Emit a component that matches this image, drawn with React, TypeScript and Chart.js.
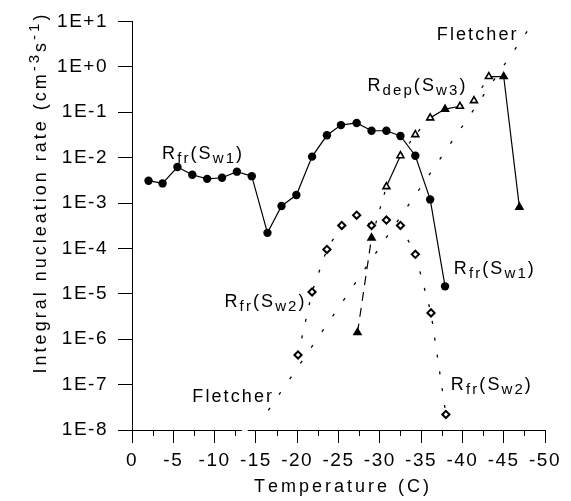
import React, { useEffect, useRef } from 'react';
import { Chart, registerables } from 'chart.js';

Chart.register(...registerables);

// ---------- data ----------
const sw1Temps = [-2, -3.7, -5.5, -7.3, -9.1, -10.9, -12.7, -14.5, -16.4, -18.1, -19.9, -21.8, -23.6, -25.3, -27.2, -29.0, -30.8, -32.5, -34.3, -36.1, -37.9];
const sw1Rates = [3.1e-3, 2.7e-3, 6.2e-3, 4.2e-3, 3.4e-3, 3.6e-3, 4.9e-3, 3.9e-3, 2.2e-4, 8.6e-4, 1.5e-3, 1.05e-2, 3.1e-2, 5.2e-2, 5.8e-2, 3.9e-2, 3.9e-2, 3.0e-2, 1.1e-2, 1.2e-3, 1.46e-5];

const sw2Temps = [-20.1, -21.8, -23.6, -25.4, -27.2, -29.0, -30.8, -32.5, -34.3, -36.2, -38.0];
const sw2Rates = [4.5e-7, 1.1e-5, 9.5e-5, 3.2e-4, 5.4e-4, 3.2e-4, 4.2e-4, 3.2e-4, 7.4e-5, 3.8e-6, 2.2e-8];

const dep3Temps = [-27.3, -29.0, -30.8, -32.5, -34.3, -36.1, -37.9, -39.7, -41.4, -43.2, -45.0, -46.9];
const dep3Rates = [1.4e-6, 1.7e-4, 2.3e-3, 1.1e-2, 3.2e-2, 7.5e-2, 0.117, 0.135, 0.18, 0.61, 0.61, 8.1e-4];
const dep3Filled = [true, true, false, false, false, false, true, false, false, false, true, true];

const fletcherTemps = [-16.5, -48.3];
const fletcherRates = [2.7e-8, 8];

const xTicks = [0, -5, -10, -15, -20, -25, -30, -35, -40, -45, -50];
const xTickLabels = ['0', '-5', '-10', '-15', '-20', '-25', '-30', '-35', '-40', '-45', '-50'];
const yTicks = [1e1, 1e0, 1e-1, 1e-2, 1e-3, 1e-4, 1e-5, 1e-6, 1e-7, 1e-8];
const yTickLabels = ['1E+1', '1E+0', '1E-1', '1E-2', '1E-3', '1E-4', '1E-5', '1E-6', '1E-7', '1E-8'];

const xTitle = 'Temperature (C)';
// [text, shift] shift: 0 normal, 1 subscript, -1 superscript
const yTitleParts: [string, number][] = [['Integral nucleation rate (cm', 0], ['-3', -1], ['s', 0], ['-1', -1], [')', 0]];

type Part = [string, number];
const labelTexts: Part[][] = [
  [['R', 0], ['fr', 1], ['(S', 0], ['w1', 1], [')', 0]],
  [['R', 0], ['dep', 1], ['(S', 0], ['w3', 1], [')', 0]],
  [['Fletcher', 0]],
  [['R', 0], ['fr', 1], ['(S', 0], ['w2', 1], [')', 0]],
  [['Fletcher', 0]],
  [['R', 0], ['fr', 1], ['(S', 0], ['w1', 1], [')', 0]],
  [['R', 0], ['fr', 1], ['(S', 0], ['w2', 1], [')', 0]],
];
// anchor (left, baseline) of each label in data units
const labelTemps = [-3.64, -28.5, -36.9, -11.2, -7.3, -38.96, -38.6];
const labelRates = [9.2e-3, 0.296, 3.85, 5.1e-6, 4.1e-8, 2.7e-5, 7.5e-8];

// ---------- styling ----------
const FONT = '"Liberation Sans", Arial, Helvetica, sans-serif';
const depSolidSegments = [2, 5, 6, 9, 10];

function drawRich(ctx: CanvasRenderingContext2D, x: number, y: number, parts: Part[], size: number, spacing: number, align: 'left' | 'center') {
  const subSize = Math.round(size * 0.82);
  let total = 0;
  const items: { ch: string; font: string; dy: number; w: number }[] = [];
  for (const [text, shift] of parts) {
    const sz = shift ? subSize : size;
    const font = `${sz}px ${FONT}`;
    ctx.font = font;
    const dy = shift === 1 ? 4 : shift === -1 ? -7 : 0;
    for (const ch of text) {
      const w = ctx.measureText(ch).width + spacing;
      items.push({ ch, font, dy, w });
      total += w;
    }
  }
  total -= spacing;
  let cx = align === 'center' ? x - total / 2 : x;
  ctx.textAlign = 'left';
  ctx.textBaseline = 'alphabetic';
  for (const it of items) {
    ctx.font = it.font;
    ctx.fillText(it.ch, cx, y + it.dy);
    cx += it.w;
  }
}

const decorPlugin = {
  id: 'decor',
  beforeUpdate(chart: any) {
    chart.ctx.letterSpacing = '1.5px';
  },
  beforeDraw(chart: any) {
    chart.ctx.letterSpacing = '1.5px';
  },
  afterDraw(chart: any) {
    const ctx: CanvasRenderingContext2D = chart.ctx;
    const xs = chart.scales.x;
    const ys = chart.scales.y;
    const area = chart.chartArea;
    ctx.save();
    ctx.letterSpacing = '0px';
    ctx.strokeStyle = '#000';
    ctx.fillStyle = '#000';
    ctx.lineWidth = 1;
    // minor x ticks
    for (let i = 0; i < xTicks.length - 1; i++) {
      const t = (xTicks[i] + xTicks[i + 1]) / 2;
      const px = Math.round(xs.getPixelForValue(t)) + 0.5;
      ctx.beginPath();
      ctx.moveTo(px, area.bottom);
      ctx.lineTo(px, area.bottom + 6);
      ctx.stroke();
    }
    // small break in x axis line
    const g1 = xs.getPixelForValue(-13.3);
    const g2 = xs.getPixelForValue(-14.0);
    ctx.fillStyle = '#fff';
    ctx.fillRect(g1, area.bottom - 2, g2 - g1, 4);
    ctx.fillStyle = '#000';

    // x title
    drawRich(ctx, (area.left + area.right) / 2 + 3, 492, [[xTitle, 0]], 18, 3, 'center');
    // y title (rotated)
    ctx.save();
    ctx.translate(46, 194);
    ctx.rotate(-Math.PI / 2);
    drawRich(ctx, 0, 0, yTitleParts, 18, 3, 'center');
    ctx.restore();

    // in-plot labels
    for (let i = 0; i < labelTexts.length; i++) {
      const px = xs.getPixelForValue(labelTemps[i]);
      const py = ys.getPixelForValue(labelRates[i]);
      drawRich(ctx, px, py, labelTexts[i], 18, 2.1, 'left');
    }
    ctx.restore();
  },
};

export default function App() {
  const ref = useRef<HTMLCanvasElement>(null);
  useEffect(() => {
    if (!ref.current) return;
    const pts = (xsArr: number[], ysArr: number[]) => xsArr.map((x, i) => ({ x, y: ysArr[i] }));
    const chart = new Chart(ref.current, {
      type: 'line',
      data: {
        datasets: [
          {
            label: 'Fletcher',
            data: pts(fletcherTemps, fletcherRates),
            borderColor: '#000',
            borderWidth: 1.3,
            borderDash: [3, 16],
            pointRadius: 0,
            fill: false,
          },
          {
            label: 'Rfr(Sw2)',
            data: pts(sw2Temps, sw2Rates),
            borderColor: '#000',
            borderWidth: 1.3,
            borderDash: [3, 14],
            pointStyle: 'rectRot',
            pointRadius: 3.6,
            pointBorderWidth: 2,
            pointBackgroundColor: '#fff',
            pointBorderColor: '#000',
            fill: false,
          },
          {
            label: 'Rdep(Sw3)',
            data: pts(dep3Temps, dep3Rates),
            borderColor: '#000',
            borderWidth: 1.2,
            segment: {
              borderDash: (c: any) =>
                depSolidSegments.includes(c.p0DataIndex) ? [] : c.p0DataIndex === 0 ? [9, 7] : [3, 12],
            },
            pointStyle: 'triangle',
            pointRadius: 4,
            pointBorderWidth: 1.6,
            pointBackgroundColor: dep3Filled.map((f) => (f ? '#000' : '#fff')),
            pointBorderColor: '#000',
            fill: false,
          },
          {
            label: 'Rfr(Sw1)',
            data: pts(sw1Temps, sw1Rates),
            borderColor: '#000',
            borderWidth: 1.2,
            pointStyle: 'circle',
            pointRadius: 4.2,
            pointBorderWidth: 0,
            pointBackgroundColor: '#000',
            fill: false,
          },
        ],
      },
      options: {
        responsive: false,
        maintainAspectRatio: false,
        devicePixelRatio: 1,
        animation: false,
        events: [],
        layout: { padding: { left: 0, right: 26, top: 18, bottom: 0 } },
        plugins: { legend: { display: false }, tooltip: { enabled: false }, title: { display: false } },
        scales: {
          x: {
            type: 'linear',
            reverse: true,
            min: -50,
            max: 0,
            afterBuildTicks: (s: any) => {
              s.ticks = xTicks.map((v) => ({ value: v }));
            },
            afterFit: (s: any) => {
              s.height = 71;
            },
            ticks: {
              autoSkip: false,
              maxRotation: 0,
              color: '#000',
              padding: 6,
              font: { family: FONT, size: 19 },
              callback: (v: any) => xTickLabels[xTicks.indexOf(Number(v))] ?? '',
            },
            grid: { drawOnChartArea: false, drawTicks: true, tickLength: 13, color: '#000', lineWidth: 1 },
            border: { display: true, color: '#000', width: 1 },
          },
          y: {
            type: 'logarithmic',
            min: 1e-8,
            max: 10,
            afterBuildTicks: (s: any) => {
              s.ticks = yTicks.map((v) => ({ value: v }));
            },
            afterFit: (s: any) => {
              s.width = 132;
            },
            ticks: {
              autoSkip: false,
              color: '#000',
              padding: 10,
              font: { family: FONT, size: 19 },
              callback: (v: any) => {
                const idx = yTicks.findIndex((t) => Math.abs(Math.log10(t) - Math.log10(Number(v))) < 1e-6);
                return idx >= 0 ? yTickLabels[idx] : '';
              },
            },
            grid: { drawOnChartArea: false, drawTicks: true, tickLength: 14, color: '#000', lineWidth: 1 },
            border: { display: true, color: '#000', width: 1 },
          },
        },
      },
      plugins: [decorPlugin],
    } as any);
    return () => chart.destroy();
  }, []);
  return (
    <div style={{ position: 'fixed', left: 0, top: 0, width: 571, height: 501, background: '#fff' }}>
      <canvas ref={ref} width={571} height={501} style={{ width: 571, height: 501, display: 'block' }} />
    </div>
  );
}
